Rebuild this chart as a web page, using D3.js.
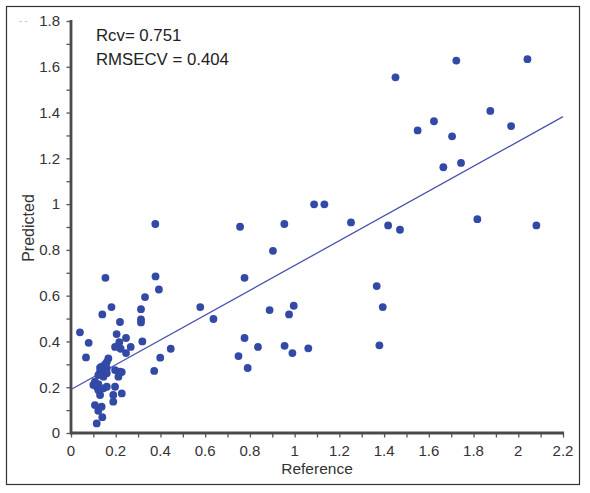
<!DOCTYPE html>
<html>
<head>
<meta charset="utf-8">
<script src="https://cdn.jsdelivr.net/npm/d3@7"></script>
<style>
  body { margin: 0; background: #fff; }
  svg { display: block; font-family: Arial, "Liberation Sans", sans-serif; }
</style>
</head>
<body>
<svg id="chart" width="590" height="493"></svg>
<script>
// reference values (x) and predicted values (y)
const reference = [
  0.040, 0.079, 0.067, 0.154, 0.140, 0.181, 0.219, 0.204, 0.246, 0.216,
  0.197, 0.222, 0.246, 0.267,
  0.167, 0.160, 0.152, 0.137, 0.160, 0.130, 0.130, 0.122, 0.145, 0.160,
  0.152, 0.197, 0.219, 0.227, 0.212, 0.107, 0.100, 0.115, 0.122, 0.122,
  0.145, 0.160, 0.197, 0.130, 0.189, 0.227, 0.189, 0.107, 0.137, 0.122,
  0.140, 0.115,
  0.313, 0.313, 0.313, 0.331, 0.319, 0.378, 0.393, 0.372, 0.399, 0.446,
  0.578, 0.637, 0.749, 0.776, 0.776, 0.790, 0.836, 0.903, 0.888, 0.955,
  0.975, 0.996, 0.990, 1.061, 1.367, 1.394, 1.379, 0.377, 0.756, 0.954,
  1.451, 1.723, 2.041, 1.875, 1.968, 1.550, 1.623, 1.704, 1.665, 1.744,
  1.087, 1.133, 1.252, 1.418, 1.471, 1.817, 2.081
];
const predicted = [
  0.440, 0.394, 0.330, 0.678, 0.518, 0.550, 0.485, 0.432, 0.415, 0.397,
  0.376, 0.368, 0.349, 0.376,
  0.326, 0.310, 0.300, 0.290, 0.283, 0.285, 0.268, 0.253, 0.246, 0.261,
  0.268, 0.275, 0.268, 0.266, 0.246, 0.224, 0.210, 0.202, 0.213, 0.188,
  0.195, 0.202, 0.202, 0.166, 0.166, 0.173, 0.137, 0.122, 0.115, 0.097,
  0.069, 0.042,
  0.541, 0.496, 0.483, 0.594, 0.400, 0.684, 0.627, 0.271, 0.329, 0.368,
  0.550, 0.498, 0.336, 0.415, 0.678, 0.284, 0.376, 0.796, 0.537, 0.381,
  0.518, 0.556, 0.349, 0.370, 0.642, 0.550, 0.383, 0.913, 0.901, 0.913,
  1.554, 1.627, 1.633, 1.407, 1.341, 1.322, 1.362, 1.296, 1.161, 1.180,
  0.999, 0.999, 0.920, 0.907, 0.888, 0.934, 0.907
];
// fitted line end points
const fitX = [0, 2.2];
const fitY = [0.19, 1.382];

const xTicks = [0, 0.2, 0.4, 0.6, 0.8, 1, 1.2, 1.4, 1.6, 1.8, 2, 2.2];
const yTicks = [0, 0.2, 0.4, 0.6, 0.8, 1, 1.2, 1.4, 1.6, 1.8];
const statLines = ["Rcv= 0.751", "RMSECV = 0.404"];

var svg = d3.select("#chart");

// outer frame
svg.append("rect")
    .attr("x", 6.5).attr("y", 6.5)
    .attr("width", 573).attr("height", 478)
    .attr("fill", "none")
    .attr("stroke", "#333")
    .attr("stroke-width", 1.2);

var xScale = d3.scaleLinear().domain([0, 2.2]).range([71, 563]);
var yScale = d3.scaleLinear().domain([0, 1.8]).range([433, 21]);

var fmt = function (d) { return String(+d.toFixed(1)); };

// x axis
var gx = svg.append("g").attr("transform", "translate(0,433)");
gx.call(d3.axisBottom(xScale).tickValues(d3.range(0, 2.21, 0.1)).tickSize(4.5).tickFormat(""));
gx.call(g => g.select(".domain").remove());
gx.selectAll(".tick line").attr("stroke", "#555").attr("stroke-width", 1.3);
gx.append("line")
    .attr("x1", 70).attr("x2", 564)
    .attr("stroke", "#4a4a4a").attr("stroke-width", 2.8);
gx.selectAll(".xlab")
    .data(xTicks)
    .enter().append("text")
    .attr("x", d => xScale(d))
    .attr("y", 23)
    .attr("text-anchor", "middle")
    .attr("font-size", "15px")
    .attr("fill", "#333")
    .text(fmt);

// y axis
var gy = svg.append("g").attr("transform", "translate(71,0)");
gy.call(d3.axisLeft(yScale).tickValues(d3.range(0, 1.81, 0.1)).tickSize(4.5).tickFormat(""));
gy.call(g => g.select(".domain").remove());
gy.selectAll(".tick line").attr("stroke", "#555").attr("stroke-width", 1.3);
gy.append("line")
    .attr("y1", 20).attr("y2", 434)
    .attr("stroke", "#4a4a4a").attr("stroke-width", 2.8);
gy.selectAll(".ylab")
    .data(yTicks)
    .enter().append("text")
    .attr("x", -11)
    .attr("y", d => yScale(d) + 5.3)
    .attr("text-anchor", "end")
    .attr("font-size", "15px")
    .attr("fill", "#333")
    .text(fmt);

// faint marks left of the top label
svg.append("text")
    .attr("x", 19).attr("y", 24)
    .attr("font-size", "9px")
    .attr("fill", "#aaa")
    .text("-  -");

// axis titles
svg.append("text")
    .attr("x", 317).attr("y", 474)
    .attr("text-anchor", "middle")
    .attr("font-size", "15.5px")
    .attr("fill", "#333")
    .text("Reference");

svg.append("text")
    .attr("transform", "translate(34,228) rotate(-90)")
    .attr("text-anchor", "middle")
    .attr("font-size", "16px")
    .attr("fill", "#333")
    .text("Predicted");

// stats
svg.selectAll(".stat")
    .data(statLines)
    .enter().append("text")
    .attr("x", 96)
    .attr("y", (d, i) => 40.5 + i * 24.5)
    .attr("font-size", "16.8px")
    .attr("fill", "#222")
    .text(d => d);

// regression line
svg.append("line")
    .attr("x1", xScale(fitX[0])).attr("y1", yScale(fitY[0]))
    .attr("x2", xScale(fitX[1])).attr("y2", yScale(fitY[1]))
    .attr("stroke", "#4a52b0")
    .attr("stroke-width", 1.3);

// points
svg.selectAll(".pt")
    .data(reference)
    .enter().append("circle")
    .attr("class", "pt")
    .attr("cx", d => xScale(d))
    .attr("cy", (d, i) => yScale(predicted[i]))
    .attr("r", 3.9)
    .attr("fill", "#3349a6");
</script>
</body>
</html>
